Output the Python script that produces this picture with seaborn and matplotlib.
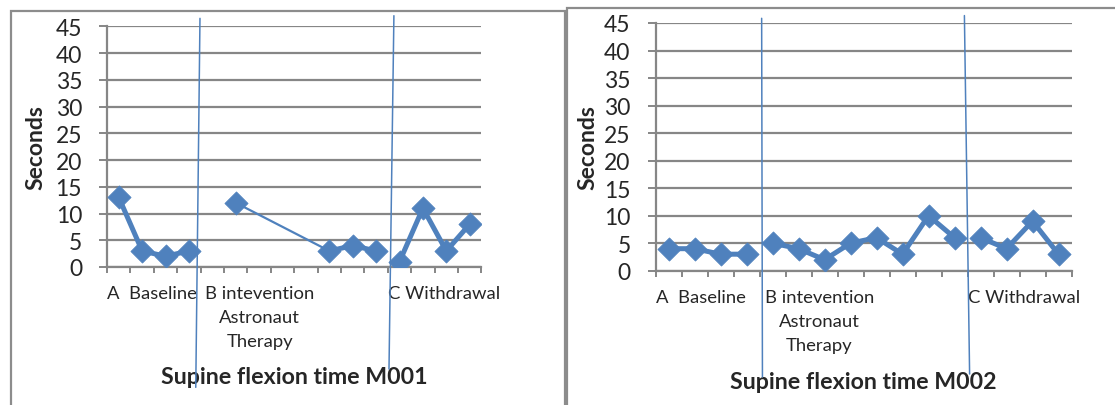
import numpy as np
import pandas as pd
import matplotlib
matplotlib.use("Agg")
import matplotlib.pyplot as plt
from matplotlib.patches import Rectangle
from matplotlib.lines import Line2D
import matplotlib.transforms as mtransforms
import seaborn as sns

# ---- data -------------------------------------------------------------
sessions = list(range(16))
phases = ["A"] * 4 + ["B"] * 8 + ["C"] * 4
m001_seconds = [13, 3, 2, 3, None, 12, None, None, None, 3, 4, 3, 1, 11, 3, 8]
m002_seconds = [4, 4, 3, 3, 5, 4, 2, 5, 6, 3, 10, 6, 6, 4, 9, 3]
titles = ["Supine flexion time M001", "Supine flexion time M002"]
y_label = "Seconds"
phase_labels = ["A  Baseline", "B intevention\nAstronaut\nTherapy", "C Withdrawal"]
phase_label_pos = [-0.5, 3.69, 11.5]
y_ticks = list(range(0, 50, 5))

# ---- style ------------------------------------------------------------
sns.set_theme(style="white")
plt.rcParams["font.family"] = ["Lato", "DejaVu Sans"]
BLUE = "#4F81BD"
GRID = "#868686"
FRAME = "#8C8C8C"

W, H = 1115, 406
fig = plt.figure(figsize=(W / 100, H / 100), dpi=100)
fig.patch.set_facecolor("white")


def px_axes(x0, y0, x1, y1):
    """Axes rectangle from pixel corners (top-left origin)."""
    return fig.add_axes([x0 / W, 1 - y1 / H, (x1 - x0) / W, (y1 - y0) / H])


def build_segments(values):
    """Split a series into line segments within each phase.

    Adjacent sessions get a heavy line; a gap of missing sessions inside
    a phase is bridged with a light line."""
    heavy, light = [], []
    seg_h, seg_l = 0, 0
    for ph in ["A", "B", "C"]:
        idx = [i for i in sessions if phases[i] == ph and values[i] is not None]
        run = [idx[0]] if idx else []
        for a, b in zip(idx[:-1], idx[1:]):
            if b == a + 1:
                run.append(b)
            else:
                if len(run) > 1:
                    heavy += [(seg_h, i, values[i]) for i in run]
                    seg_h += 1
                light += [(seg_l, a, values[a]), (seg_l, b, values[b])]
                seg_l += 1
                run = [b]
        if len(run) > 1:
            heavy += [(seg_h, i, values[i]) for i in run]
            seg_h += 1
    cols = ["seg", "session", "seconds"]
    return pd.DataFrame(heavy, columns=cols), pd.DataFrame(light, columns=cols)


panels = [
    dict(values=m001_seconds, box=(107.1, 27.3, 481.4, 268.0),
         dividers=[((3.47, 1.033), (3.29, -0.50)), ((11.76, 1.044), (11.55, -0.424))],
         ylab_x=-0.19, title_y=-0.457),
    dict(values=m002_seconds, box=(655.6, 24.0, 1071.5, 271.7),
         dividers=[((3.58, 1.019), (3.61, -0.429)), ((11.38, 1.03), (11.58, -0.417))],
         ylab_x=-0.1635, title_y=-0.449),
]

# outer chart frames
fig.add_artist(Rectangle((10.7 / W, -0.2), (565 - 10.7) / W, 0.2 + 1 - 12 / H,
                         transform=fig.transFigure, fill=False,
                         edgecolor=FRAME, linewidth=1.6))
fig.add_artist(Rectangle((567 / W, -0.2), 0.6, 0.2 + 1 - 9 / H,
                         transform=fig.transFigure, fill=False,
                         edgecolor=FRAME, linewidth=1.6))

for p, title in zip(panels, titles):
    ax = px_axes(*p["box"])
    ax.set_facecolor("white")
    vals = p["values"]
    df = pd.DataFrame({"session": sessions,
                       "seconds": [np.nan if v is None else v for v in vals]})
    heavy, light = build_segments(vals)

    if len(light):
        sns.lineplot(data=light, x="session", y="seconds", units="seg",
                     estimator=None, color=BLUE, linewidth=1.6, ax=ax,
                     legend=False)
    sns.lineplot(data=heavy, x="session", y="seconds", units="seg",
                 estimator=None, color=BLUE, linewidth=3.6, ax=ax,
                 legend=False)
    sns.scatterplot(data=df.dropna(), x="session", y="seconds", marker="D",
                    s=140, color=BLUE, edgecolor=BLUE, linewidth=0.5,
                    ax=ax, legend=False, zorder=5)

    ax.set_xlim(-0.5, 15.5)
    ax.set_ylim(0, 45)
    ax.set_yticks(y_ticks)
    ax.set_yticklabels([str(t) for t in y_ticks], fontsize=16.5)
    ax.yaxis.grid(True, color=GRID, linewidth=1.6)
    ax.set_axisbelow(True)
    ax.tick_params(axis="y", direction="out", length=6, width=1.4,
                   color=GRID, pad=12, left=True)

    ax.xaxis.remove_overlapping_locs = False
    ax.set_xticks(np.arange(-0.5, 16, 1))
    ax.set_xticklabels([])
    ax.tick_params(axis="x", which="major", direction="out", length=4.2,
                   width=1.4, color=GRID, bottom=True)
    ax.set_xticks(phase_label_pos, minor=True)
    ax.set_xticklabels(phase_labels, minor=True, fontsize=13.3,
                       ha="left", multialignment="center", linespacing=1.62)
    ax.tick_params(axis="x", which="minor", length=0, pad=13)

    for side in ["top", "right"]:
        ax.spines[side].set_visible(False)
    for side in ["left", "bottom"]:
        ax.spines[side].set_color(GRID)
        ax.spines[side].set_linewidth(1.6)

    ax.set_xlabel("")
    ax.set_ylabel("")
    ax.text(p["ylab_x"], 0.5, y_label, transform=ax.transAxes, rotation=90,
            ha="center", va="center", fontsize=16.5, fontweight="bold")
    ax.text(0.5, p["title_y"], title, transform=ax.transAxes, ha="center",
            va="center", fontsize=16.7, fontweight="bold")

    # phase change dividers
    blend = mtransforms.blended_transform_factory(ax.transData, ax.transAxes)
    for (xt, yt), (xb, yb) in p["dividers"]:
        ax.add_line(Line2D([xt, xb], [yt, yb], transform=blend, color=BLUE,
                           linewidth=1.1, clip_on=False, zorder=6))

fig.savefig("out.png", dpi=100, facecolor="white")
